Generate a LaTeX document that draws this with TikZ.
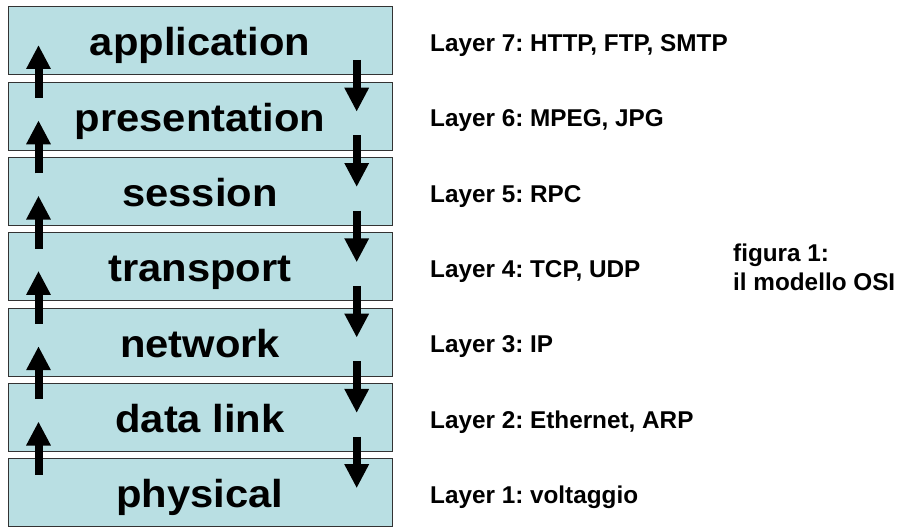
\documentclass[tikz,border=0pt]{standalone}
\usepackage{fontspec}
\setmainfont{Liberation Sans}
\usepackage{graphicx}
\usetikzlibrary{arrows.meta}
\definecolor{layerfill}{RGB}{185,223,227}
\frenchspacing
\begin{document}
\begin{tikzpicture}[x=1pt,y=-1pt,
  layerbox/.style={draw=black!80, line width=1pt, fill=layerfill, minimum width=384pt, minimum height=68pt, inner sep=0pt, outer sep=0pt},
  layertext/.style={anchor=base, inner sep=0pt, font=\fontsize{39}{46}\selectfont\bfseries},
  prototext/.style={anchor=base west, inner sep=0pt, font=\fontsize{24.3}{29}\selectfont\bfseries},
  flowarrow/.style={line width=8pt, -{Triangle[length=24pt,width=23pt]}}]
\useasboundingbox (0,0) rectangle (900,527);
\clip (0,0) rectangle (900,527);
\fill[white] (0,0) rectangle (900,527);
% layer boxes
\foreach \i/\name/\proto in {0/application/{Layer 7: HTTP, FTP, SMTP},
                            1/presentation/{Layer 6: MPEG, JPG},
                            2/session/{Layer 5: RPC},
                            3/transport/{Layer 4: TCP, UDP},
                            4/network/{Layer 3: IP},
                            5/data link/{Layer 2: Ethernet, ARP},
                            6/physical/{Layer 1: voltaggio}}{
  \node[layerbox] (box\i) at (200,{41+75.3*\i}) {};
  \node[layertext] (txt\i) at (200,{56+75.3*\i}) {\scalebox{1.07}[1]{\name}};
  \node[prototext] (lab\i) at (430,{51.5+75.3*\i}) {\proto};
}
% arrows
\foreach \i in {0,...,5}{
  \coordinate (up\i s) at (38.5,{98+75.3*\i});
  \coordinate (up\i e) at (38.5,{45+75.3*\i});
  \draw[flowarrow] (up\i s) -- (up\i e);
  \coordinate (dn\i s) at (356.7,{60+75.3*\i});
  \coordinate (dn\i e) at (356.7,{111.7+75.3*\i});
  \draw[flowarrow] (dn\i s) -- (dn\i e);
}
\node[prototext] (fig1) at (733,261.7) {figura 1:};
\node[prototext] (fig2) at (733,290.7) {il modello OSI};
\end{tikzpicture}
\end{document}
